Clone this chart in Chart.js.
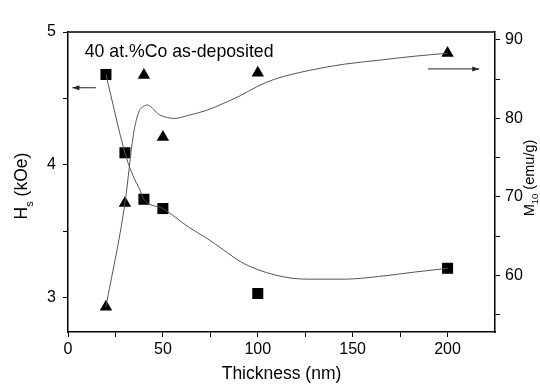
<!DOCTYPE html>
<html>
<head>
<meta charset="utf-8">
<script src="https://cdn.jsdelivr.net/npm/chart.js@4/dist/chart.umd.min.js"></script>
<style>
  html, body { margin: 0; padding: 0; background: #fff; }
  canvas { display: block; }
</style>
</head>
<body>
<canvas id="grafico" width="540" height="387"></canvas>
<script>
// Datos
const thickness = [20, 30, 40, 50, 100, 200];
const hsValues = [4.68, 4.09, 3.74, 3.67, 3.03, 3.22];
const m10Values = [56.0, 69.2, 85.5, 77.6, 85.8, 88.3];

const hsFitX = [20, 30, 33.6, 38.2, 40, 50, 63.6, 72.7, 81.8, 90.9, 100, 109, 118, 127, 145.5, 163.6, 181.8, 200];
const hsFitY = [4.68, 4.09, 3.94, 3.80, 3.74, 3.67, 3.53, 3.45, 3.36, 3.27, 3.21, 3.17, 3.145, 3.138, 3.138, 3.158, 3.19, 3.22];
const m10FitX = [20, 30, 34.5, 37.3, 39.6, 41.8, 44.5, 47.3, 50.9, 56.4, 63.6, 72.7, 81.8, 90.9, 100, 109, 127, 145.5, 163.6, 181.8, 200];
const m10FitY = [56.0, 69.2, 78.0, 80.8, 81.5, 81.7, 81.3, 80.6, 80.2, 80.0, 80.4, 81.0, 81.9, 82.9, 84.1, 85.0, 86.1, 86.9, 87.4, 87.9, 88.3];

// Marcas de los ejes
const xTicks = [0, 25, 50, 75, 100, 125, 150, 175, 200];
const xLabels = [0, 50, 100, 150, 200];
const hsTicks = [3, 3.5, 4, 4.5, 5];
const hsLabels = [3, 4, 5];
const m10Ticks = [55, 60, 65, 70, 75, 80, 85, 90];
const m10Labels = [60, 70, 80, 90];

const fuente = '"Liberation Sans", Arial, sans-serif';
const pares = (xs, ys) => xs.map((x, i) => ({ x: x, y: ys[i] }));

function flecha(ctx, x1, y1, x2, y2) {
    ctx.beginPath();
    ctx.moveTo(x1, y1);
    ctx.lineTo(x2, y2);
    ctx.stroke();
    const dir = Math.sign(x2 - x1);
    ctx.beginPath();
    ctx.moveTo(x2, y2);
    ctx.lineTo(x2 - dir * 7, y2 - 2.5);
    ctx.lineTo(x2 - dir * 7, y2 + 2.5);
    ctx.closePath();
    ctx.fill();
}

// Texto rotado con subindice
function tituloVertical(ctx, cx, cy, base, sub, resto, size, subSize, shift) {
    ctx.save();
    ctx.font = size + 'px ' + fuente;
    const w1 = ctx.measureText(base).width;
    const w3 = ctx.measureText(resto).width;
    ctx.font = subSize + 'px ' + fuente;
    const w2 = ctx.measureText(sub).width;
    const total = w1 + w2 + w3;
    ctx.translate(cx, cy);
    ctx.rotate(-Math.PI / 2);
    ctx.textBaseline = 'alphabetic';
    ctx.textAlign = 'left';
    let x = -total / 2;
    ctx.font = size + 'px ' + fuente;
    ctx.fillText(base, x, 0);
    x += w1;
    ctx.font = subSize + 'px ' + fuente;
    ctx.fillText(sub, x, shift);
    x += w2;
    ctx.font = size + 'px ' + fuente;
    ctx.fillText(resto, x, 0);
    ctx.restore();
}

const extras = {
    id: 'extras',
    afterDraw(chart) {
        const ctx = chart.ctx;
        const a = chart.chartArea;
        const sx = chart.scales.x, sy = chart.scales.y, sy2 = chart.scales.y2;
        ctx.save();
        // borde superior
        ctx.strokeStyle = '#000';
        ctx.lineWidth = 1.5;
        ctx.beginPath();
        ctx.moveTo(a.left, a.top);
        ctx.lineTo(a.right, a.top);
        ctx.stroke();

        // flechas
        ctx.strokeStyle = '#222';
        ctx.fillStyle = '#222';
        ctx.lineWidth = 1;
        flecha(ctx, sx.getPixelForValue(14.7), sy.getPixelForValue(4.58), sx.getPixelForValue(2.3), sy.getPixelForValue(4.58));
        flecha(ctx, sx.getPixelForValue(189.7), sy2.getPixelForValue(86.3), sx.getPixelForValue(216.7), sy2.getPixelForValue(86.3));

        // rotulo
        ctx.fillStyle = '#000';
        ctx.font = '17.7px ' + fuente;
        ctx.textAlign = 'left';
        ctx.textBaseline = 'alphabetic';
        ctx.fillText('40 at.%Co as-deposited', sx.getPixelForValue(8.8), sy.getPixelForValue(4.81));

        // titulos de ejes
        ctx.textAlign = 'center';
        ctx.font = '17.5px ' + fuente;
        ctx.fillText('Thickness (nm)', (a.left + a.right) / 2, 379);
        tituloVertical(ctx, 27, 186, 'H', 's', ' (kOe)', 17.5, 11, 6);
        tituloVertical(ctx, 534, 178, 'M', '10', ' (emu/g)', 14.5, 9.5, 4);
        ctx.restore();
    }
};

const ejeComun = {
    type: 'linear',
    grid: { display: true, drawOnChartArea: false, drawTicks: true, tickLength: 5, color: '#000', tickWidth: 1 },
    border: { display: true, color: '#000', width: 1.5 },
    ticks: { color: '#000', font: { family: fuente, size: 16 } }
};

new Chart(document.getElementById('grafico').getContext('2d'), {
    type: 'scatter',
    data: {
        datasets: [
            {
                data: pares(hsFitX, hsFitY),
                xAxisID: 'x', yAxisID: 'y',
                showLine: true, pointRadius: 0,
                borderColor: '#555', borderWidth: 1,
                cubicInterpolationMode: 'monotone'
            },
            {
                data: pares(m10FitX, m10FitY),
                xAxisID: 'x', yAxisID: 'y2',
                showLine: true, pointRadius: 0,
                borderColor: '#555', borderWidth: 1,
                cubicInterpolationMode: 'monotone'
            },
            {
                label: 'Hs',
                data: pares(thickness, hsValues),
                xAxisID: 'x', yAxisID: 'y',
                pointStyle: 'rect', pointRadius: 7.8,
                backgroundColor: '#000', borderColor: '#000', borderWidth: 0
            },
            {
                label: 'M10',
                data: pares(thickness, m10Values),
                xAxisID: 'x', yAxisID: 'y2',
                pointStyle: 'triangle', pointRadius: 7.2,
                backgroundColor: '#000', borderColor: '#000', borderWidth: 0
            }
        ]
    },
    options: {
        responsive: false,
        animation: false,
        devicePixelRatio: 1,
        layout: { padding: { top: 32, left: 0, right: 0, bottom: 0 } },
        plugins: { legend: { display: false }, tooltip: { enabled: false } },
        scales: {
            x: Object.assign({}, ejeComun, {
                position: 'bottom', min: 0, max: 225,
                afterBuildTicks: s => { s.ticks = xTicks.map(v => ({ value: v })); },
                afterFit: s => { s.height = 55; },
                ticks: Object.assign({}, ejeComun.ticks, {
                    padding: 3, maxRotation: 0, autoSkip: false,
                    callback: v => xLabels.includes(v) ? String(v) : ''
                })
            }),
            y: Object.assign({}, ejeComun, {
                position: 'left', min: 2.74, max: 5,
                afterBuildTicks: s => { s.ticks = hsTicks.map(v => ({ value: v })); },
                afterFit: s => { s.width = 68; },
                ticks: Object.assign({}, ejeComun.ticks, {
                    padding: 7, autoSkip: false,
                    callback: v => hsLabels.includes(v) ? String(v) : ''
                })
            }),
            y2: Object.assign({}, ejeComun, {
                position: 'right', min: 52.8, max: 91,
                afterBuildTicks: s => { s.ticks = m10Ticks.map(v => ({ value: v })); },
                afterFit: s => { s.width = 45; },
                ticks: Object.assign({}, ejeComun.ticks, {
                    padding: 5, autoSkip: false,
                    callback: v => m10Labels.includes(v) ? String(v) : ''
                })
            })
        }
    },
    plugins: [extras]
});
</script>
</body>
</html>
